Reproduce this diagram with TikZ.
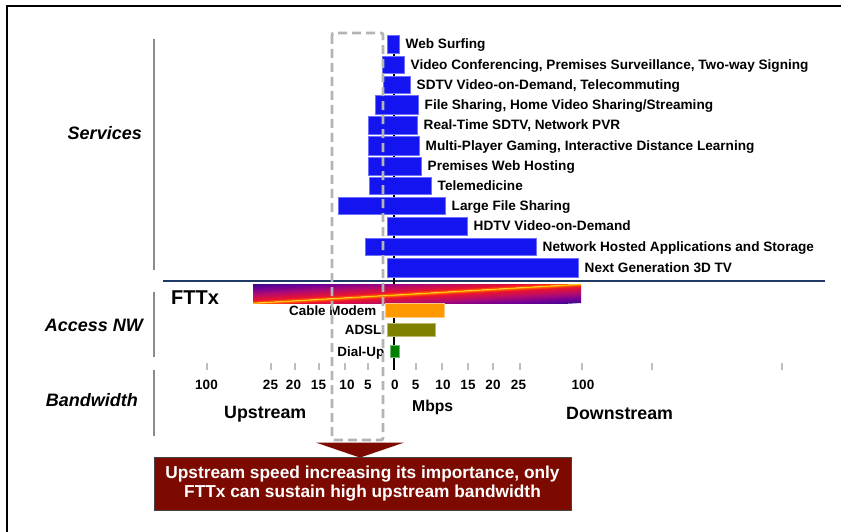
\documentclass[tikz,border=0pt]{standalone}
\usepackage{fontspec}
\setmainfont{Liberation Sans}

\definecolor{barblue}{RGB}{20,20,240}
\definecolor{barblueedge}{RGB}{110,110,255}
\definecolor{cmorange}{RGB}{255,153,0}
\definecolor{cmorangeedge}{RGB}{255,200,130}
\definecolor{adslolive}{RGB}{128,128,0}
\definecolor{adsloliveedge}{RGB}{185,185,110}
\definecolor{dialgreen}{RGB}{0,128,0}
\definecolor{dialgreenedge}{RGB}{110,185,110}
\definecolor{navyrule}{RGB}{31,58,102}
\definecolor{sectiongray}{RGB}{140,140,140}
\definecolor{dashgray}{RGB}{180,180,180}
\definecolor{tickgray}{RGB}{190,190,190}
\definecolor{notered}{RGB}{124,10,0}
\definecolor{noteedge}{RGB}{70,70,70}
% colours of the FTTx band
\definecolor{fyel}{RGB}{255,200,0}
\definecolor{forg}{RGB}{255,100,0}
\definecolor{fred}{RGB}{235,20,45}
\definecolor{fmag}{RGB}{175,10,115}
\definecolor{fpur}{RGB}{110,0,150}
\definecolor{findigo}{RGB}{60,10,140}

% upper half of the band: bright edge at the bottom, indigo at the top
\pgfdeclareverticalshading{fttxabove}{100bp}{color(0bp)=(fyel); color(25bp)=(fyel);
  color(27bp)=(forg); color(32bp)=(fred); color(49bp)=(fmag); color(64bp)=(fpur);
  color(75bp)=(findigo); color(100bp)=(findigo)}
% lower half of the band: indigo at the bottom, bright edge at the top
\pgfdeclareverticalshading{fttxbelow}{100bp}{color(0bp)=(findigo); color(25bp)=(findigo);
  color(36bp)=(fpur); color(51bp)=(fmag); color(68bp)=(fred); color(73bp)=(forg);
  color(75bp)=(fyel); color(100bp)=(fyel)}

\tikzset{
  svcbar/.style={fill=barblue, draw=barblueedge, line width=0.6pt},
  svclabel/.style={font=\fontsize{13.6}{15}\selectfont\bfseries, inner sep=0pt, anchor=base west},
  acclabel/.style={font=\fontsize{13.4}{15}\selectfont\bfseries, inner sep=0pt, anchor=base east},
  sectionlabel/.style={font=\fontsize{18}{20}\selectfont\bfseries\itshape, inner sep=0pt, anchor=base east},
  sectionrule/.style={draw=sectiongray, line width=2.5pt},
  tickmark/.style={draw=tickgray, line width=2.5pt},
  ticklabel/.style={font=\fontsize{13.5}{15}\selectfont\bfseries, inner sep=0pt, anchor=base},
  dirlabel/.style={font=\fontsize{17.8}{20}\selectfont\bfseries, inner sep=0pt, anchor=base west},
  dashbox/.style={draw=dashgray, line width=2.8pt, dash pattern=on 9pt off 5pt, rounded corners=2pt},
  notebox/.style={fill=notered, draw=noteedge, line width=0.8pt, text=white,
    font=\fontsize{17.3}{18.5}\selectfont\bfseries, align=center, inner sep=0pt}
}

% name, left, right, top, bottom, label
\newcommand\servicebar[6]{%
  \path[svcbar] (#2,#4) rectangle (#3,#5);
  \node[svclabel] (#1) at ({#3+6.5},{(#4+#5)/2+4.7}) {#6};}

\begin{document}
\begin{tikzpicture}[x=1pt, y=-1pt]
\useasboundingbox[fill=white] (0,0) rectangle (841,532);

% frame
\draw[line width=2pt] (6.5,532) -- (6.5,6) -- (841,6);

% section rules and labels
\draw[sectionrule] (154,39) -- (154,270);
\draw[sectionrule] (154,292) -- (154,357);
\draw[sectionrule] (154,370) -- (154,436);
\node[sectionlabel] (services) at (142,140) {Services};
\node[sectionlabel] (access) at (143,331) {Access NW};
\node[sectionlabel] (bandwidth) at (138,406) {Bandwidth};

% separator between services and access networks
\coordinate (sepL) at (163,280.5);
\coordinate (sepR) at (825,280.5);
\draw[navyrule, line width=2pt] (sepL) -- (sepR);

% zero axis
\coordinate (zeroTop) at (394,45);
\coordinate (zeroBot) at (394,370);
\draw[line width=2pt] (zeroTop) -- (zeroBot);

% tick marks
\foreach \tx in {207,271,295,319,345,368,416,442,468,493,520,582,652,782}
  \draw[tickmark] (\tx,363) -- (\tx,370);

% tick labels
\foreach \tx/\tl in {206.5/100,270.5/25,293.5/20,318.5/15,347/10,368/5,395/0,
    415.5/5,443/10,468/15,493/20,518.5/25,583/100}
  \node[ticklabel] at (\tx,389.7) {\tl};
\node[dirlabel] (up) at (224,418) {Upstream};
\node[dirlabel] (mbps) at (412,411.5) {\fontsize{15.7}{18}\selectfont Mbps};
\node[dirlabel] (down) at (566,419) {Downstream};

% services
\servicebar{s1}{387}{399}{35}{53}{Web Surfing}
\servicebar{s2}{382}{404}{56}{73}{Video Conferencing, Premises Surveillance, Two-way Signing}
\servicebar{s3}{383}{410}{76}{93}{SDTV Video-on-Demand, Telecommuting}
\servicebar{s4}{375}{418}{95}{114}{File Sharing, Home Video Sharing/Streaming}
\servicebar{s5}{368}{417}{116}{134}{Real-Time SDTV, Network PVR}
\servicebar{s6}{368}{419}{136}{155}{Multi-Player Gaming, Interactive Distance Learning}
\servicebar{s7}{368}{421}{157}{175}{Premises Web Hosting}
\servicebar{s8}{369}{431}{177}{194}{Telemedicine}
\servicebar{s9}{338}{445}{197}{214}{Large File Sharing}
\servicebar{s10}{387}{467}{217}{235}{HDTV Video-on-Demand}
\servicebar{s11}{365}{536}{238}{255}{Network Hosted Applications and Storage}
\servicebar{s12}{387}{578}{258}{277}{Next Generation 3D TV}

% FTTx band with its bright diagonal streak
\node[font=\fontsize{20}{22}\selectfont\bfseries, inner sep=0pt, anchor=base west] (fttx) at (171,304.3) {FTTx};
\begin{scope}
  \clip (253,284) rectangle (581,303);
  \begin{scope}[transform canvas={cm={1,0.05793,0,1,(0pt,-14.656pt)}}]
    \shade[shading=fttxabove] (240,284) rectangle (600,303);
    \shade[shading=fttxbelow] (240,303) rectangle (600,322);
  \end{scope}
\end{scope}

% other access networks
\path[fill=cmorange, draw=cmorangeedge, line width=0.6pt] (385,303) rectangle (444,317);
\node[acclabel] (cable) at (376.5,315.7) {Cable Modem};
\path[fill=adslolive, draw=adsloliveedge, line width=0.6pt] (387,323) rectangle (435,336);
\node[acclabel] (adsl) at (381.5,334.5) {ADSL};
\path[fill=dialgreen, draw=dialgreenedge, line width=0.6pt] (390,345) rectangle (399,357);
\node[acclabel] (dial) at (384.5,356) {Dial-Up};

% upstream window
\draw[dashbox] (332,33) rectangle (383,440);

% conclusion
\node[notebox, minimum width=417pt, minimum height=53pt] (note) at (362.5,483.5)
  {Upstream speed increasing its importance, only\\FTTx can sustain high upstream bandwidth};
\fill[notered] ([xshift=-46.5pt, yshift=14pt]note.north) -- ([xshift=41.5pt, yshift=14pt]note.north)
  -- ([xshift=-2.5pt, yshift=-1pt]note.north) -- cycle;
\end{tikzpicture}
\end{document}
